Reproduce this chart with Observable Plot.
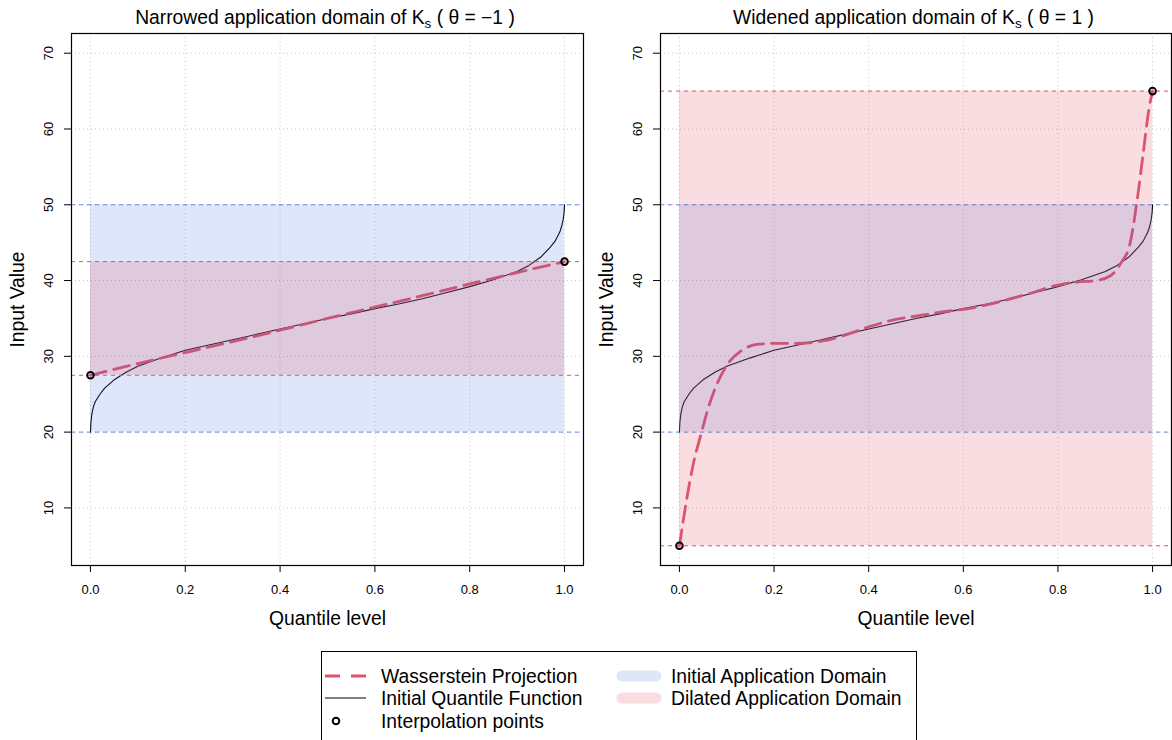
<!DOCTYPE html>
<html><head><meta charset="utf-8">
<script src="https://cdn.jsdelivr.net/npm/d3@7"></script>
<script src="https://cdn.jsdelivr.net/npm/@observablehq/plot@0.6"></script>
<style>
body{margin:0;background:#fff;}
#root{position:relative;width:1172px;height:740px;overflow:hidden;font-family:"Liberation Sans",Arial,sans-serif;color:#000;background:#fff;}
.panel{position:absolute;top:0;}
.title{position:absolute;top:7px;font-size:19.3px;line-height:1.117;white-space:nowrap;transform:translateX(-50%);}
.title sub{font-size:70%;vertical-align:-0.3em;line-height:0;}
#legend{position:absolute;left:0;top:0;}
</style></head><body><div id="root"></div>
<script>
// ---------- data ----------
const xTicks = [0, 0.2, 0.4, 0.6, 0.8, 1];
const yTicks = [10, 20, 30, 40, 50, 60, 70];
const bandLevels = [0, 1];

// initial quantile function (black curve)
const qfLevels = [0, 0.001, 0.003, 0.006, 0.01, 0.02, 0.03, 0.05, 0.075, 0.1, 0.15, 0.2, 0.25, 0.3, 0.35, 0.4, 0.45, 0.5, 0.55, 0.6, 0.65, 0.7, 0.75, 0.8, 0.85, 0.9, 0.925, 0.95, 0.97, 0.98, 0.99, 0.994, 0.997, 0.999, 1];
const qfValues = [20, 21.3, 22.4, 23.3, 24.0, 25.0, 25.8, 26.9, 27.9, 28.7, 29.8, 30.8, 31.5, 32.2, 32.9, 33.6, 34.3, 35.0, 35.6, 36.3, 36.9, 37.6, 38.4, 39.2, 40.1, 41.2, 42.0, 43.1, 44.4, 45.2, 46.4, 47.2, 48.0, 49.0, 50];

// Wasserstein projection, narrowed (theta = -1)
const wpNarrowLevels = [0, 0.1, 0.2, 0.3, 0.4, 0.5, 0.6, 0.7, 0.8, 0.9, 1];
const wpNarrowValues = [27.5, 29.05, 30.5, 31.95, 33.45, 35.0, 36.5, 38.0, 39.55, 41.05, 42.5];

// Wasserstein projection, widened (theta = 1)
const wpWideLevels = [0, 0.015, 0.03, 0.046, 0.06, 0.075, 0.1, 0.132, 0.167, 0.2, 0.24, 0.3, 0.35, 0.4, 0.46, 0.52, 0.56, 0.62, 0.67, 0.74, 0.8, 0.84, 0.88, 0.91, 0.934, 0.952, 0.966, 0.98, 0.992, 1];
const wpWideValues = [5, 11.0, 16.0, 19.8, 23.0, 25.7, 28.8, 30.8, 31.6, 31.7, 31.7, 32.0, 32.8, 33.9, 34.9, 35.5, 35.9, 36.4, 37.1, 38.3, 39.4, 39.8, 40.0, 40.6, 42.4, 44.8, 50.0, 56.7, 62.5, 65];

const initialDomain = [20, 50];
const narrowedDomain = [27.5, 42.5];
const widenedDomain = [5, 65];

const interpNarrowLevels = [0, 1];
const interpNarrowValues = [27.5, 42.5];
const interpWideLevels = [0, 1];
const interpWideValues = [5, 65];

const titleMain = ["Narrowed application domain of K", "Widened application domain of K"];
const titleSub = ["s", "s"];
const titleTheta = ["( \u03b8 = \u22121 )", "( \u03b8 = 1 )"];
const xLabel = "Quantile level";
const yLabel = "Input Value";
const legendLeft = ["Wasserstein Projection", "Initial Quantile Function", "Interpolation points"];
const legendRight = ["Initial Application Domain", "Dilated Application Domain"];

// ---------- styles ----------
const FONT = '"Liberation Sans", Arial, sans-serif';
const RED = "#DF536B";
const BLUE = "#4169E1";
const BLUE_A = 0.17;
const RED_A = 0.2;
const LABEL_SIZE = 19.3;
const TICK_SIZE = 13;

const zipQV = (q, v) => q.map((d, i) => ({q: d, v: v[i]}));
const qf = zipQV(qfLevels, qfValues);

function panel(opts) {
  const {wp, pts, redDomain, marginLeft, marginRight} = opts;
  return Plot.plot({
    width: 586, height: 640,
    marginLeft, marginRight, marginTop: 33, marginBottom: 75,
    style: {fontFamily: FONT, fontSize: TICK_SIZE + "px", color: "#000", background: "transparent", overflow: "visible"},
    x: {domain: [-0.04, 1.04]},
    y: {domain: [2.4, 72.6]},
    marks: [
      Plot.gridX(xTicks, {stroke: "#c8c8c8", strokeOpacity: 1, strokeDasharray: "1,3"}),
      Plot.gridY(yTicks, {stroke: "#c8c8c8", strokeOpacity: 1, strokeDasharray: "1,3"}),
      Plot.line(qf, {x: "q", y: "v", stroke: "#000", strokeWidth: 1.1}),
      Plot.line(wp, {x: "q", y: "v", stroke: RED, strokeWidth: 2.8, strokeDasharray: "16,8", curve: "monotone-x"}),
      Plot.rect([initialDomain], {x1: () => bandLevels[0], x2: () => bandLevels[1], y1: d => d[0], y2: d => d[1], fill: BLUE, fillOpacity: BLUE_A}),
      Plot.rect([redDomain], {x1: () => bandLevels[0], x2: () => bandLevels[1], y1: d => d[0], y2: d => d[1], fill: RED, fillOpacity: RED_A}),
      Plot.ruleY(initialDomain, {stroke: BLUE, strokeWidth: 1, strokeOpacity: 0.8, strokeDasharray: "4,4"}),
      Plot.ruleY(redDomain, {stroke: RED, strokeWidth: 1, strokeDasharray: "4,4"}),
      Plot.dot(pts, {x: "q", y: "v", r: 3.3, stroke: "#000", strokeWidth: 2, fill: "none"}),
      Plot.frame({stroke: "#000", strokeWidth: 1.2}),
      Plot.axisX(xTicks, {tickSize: 7, tickPadding: 12, tickFormat: d3.format(".1f"), label: null, fontSize: TICK_SIZE}),
      Plot.axisY(yTicks, {tickSize: 7, tickFormat: () => "", label: null}),
      Plot.text(yTicks, {y: d => d, text: d => String(d), frameAnchor: "left", dx: -23, rotate: -90, textAnchor: "middle", lineAnchor: "middle", fontSize: TICK_SIZE}),
      Plot.text([xLabel], {text: d => d, frameAnchor: "bottom", dy: 53, fontSize: LABEL_SIZE, textAnchor: "middle", lineAnchor: "middle"}),
      Plot.text([yLabel], {text: d => d, frameAnchor: "left", dx: -54, rotate: -90, fontSize: LABEL_SIZE, textAnchor: "middle", lineAnchor: "middle"})
    ]
  });
}

const root = document.getElementById("root");
const panels = [
  {left: 0, marginLeft: 71, marginRight: 3, wp: zipQV(wpNarrowLevels, wpNarrowValues), pts: zipQV(interpNarrowLevels, interpNarrowValues), redDomain: narrowedDomain},
  {left: 586, marginLeft: 74, marginRight: 1, wp: zipQV(wpWideLevels, wpWideValues), pts: zipQV(interpWideLevels, interpWideValues), redDomain: widenedDomain}
];
panels.forEach((p, i) => {
  const wrap = document.createElement("div");
  wrap.className = "panel";
  wrap.style.left = p.left + "px";
  wrap.appendChild(panel(p));
  root.appendChild(wrap);
  const t = document.createElement("div");
  t.className = "title";
  const plotW = 586 - p.marginLeft - p.marginRight;
  t.style.left = (p.left + p.marginLeft + plotW / 2 - 2) + "px";
  t.innerHTML = `${titleMain[i]}<sub>${titleSub[i]}</sub> ${titleTheta[i]}`;
  root.appendChild(t);
});

// ---------- legend ----------
const svg = d3.select(root).append("svg").attr("id", "legend").attr("width", 1172).attr("height", 740)
  .style("font-family", FONT).style("font-size", LABEL_SIZE + "px");
svg.append("rect").attr("x", 321.5).attr("y", 651.5).attr("width", 595).attr("height", 120)
  .attr("fill", "none").attr("stroke", "#000").attr("stroke-width", 1);
const rowY = [676, 698, 721];
const colText = [381, 671];
// left column symbols
svg.append("line").attr("x1", 325).attr("x2", 366).attr("y1", rowY[0]).attr("y2", rowY[0])
  .attr("stroke", RED).attr("stroke-width", 2.8).attr("stroke-dasharray", "15,11");
svg.append("line").attr("x1", 325).attr("x2", 366).attr("y1", rowY[1]).attr("y2", rowY[1])
  .attr("stroke", "#000").attr("stroke-width", 1.1);
svg.append("circle").attr("cx", 336).attr("cy", rowY[2]).attr("r", 3.3)
  .attr("fill", "none").attr("stroke", "#000").attr("stroke-width", 2);
legendLeft.forEach((s, i) => svg.append("text").attr("x", colText[0]).attr("y", rowY[i]).attr("dy", "0.35em").text(s));
// right column symbols
[[BLUE, BLUE_A], [RED, RED_A]].forEach(([c, a], i) => {
  svg.append("line").attr("x1", 622).attr("x2", 656).attr("y1", rowY[i]).attr("y2", rowY[i])
    .attr("stroke", c).attr("stroke-opacity", a).attr("stroke-width", 11).attr("stroke-linecap", "round");
});
legendRight.forEach((s, i) => svg.append("text").attr("x", colText[1]).attr("y", rowY[i]).attr("dy", "0.35em").text(s));
</script></body></html>
